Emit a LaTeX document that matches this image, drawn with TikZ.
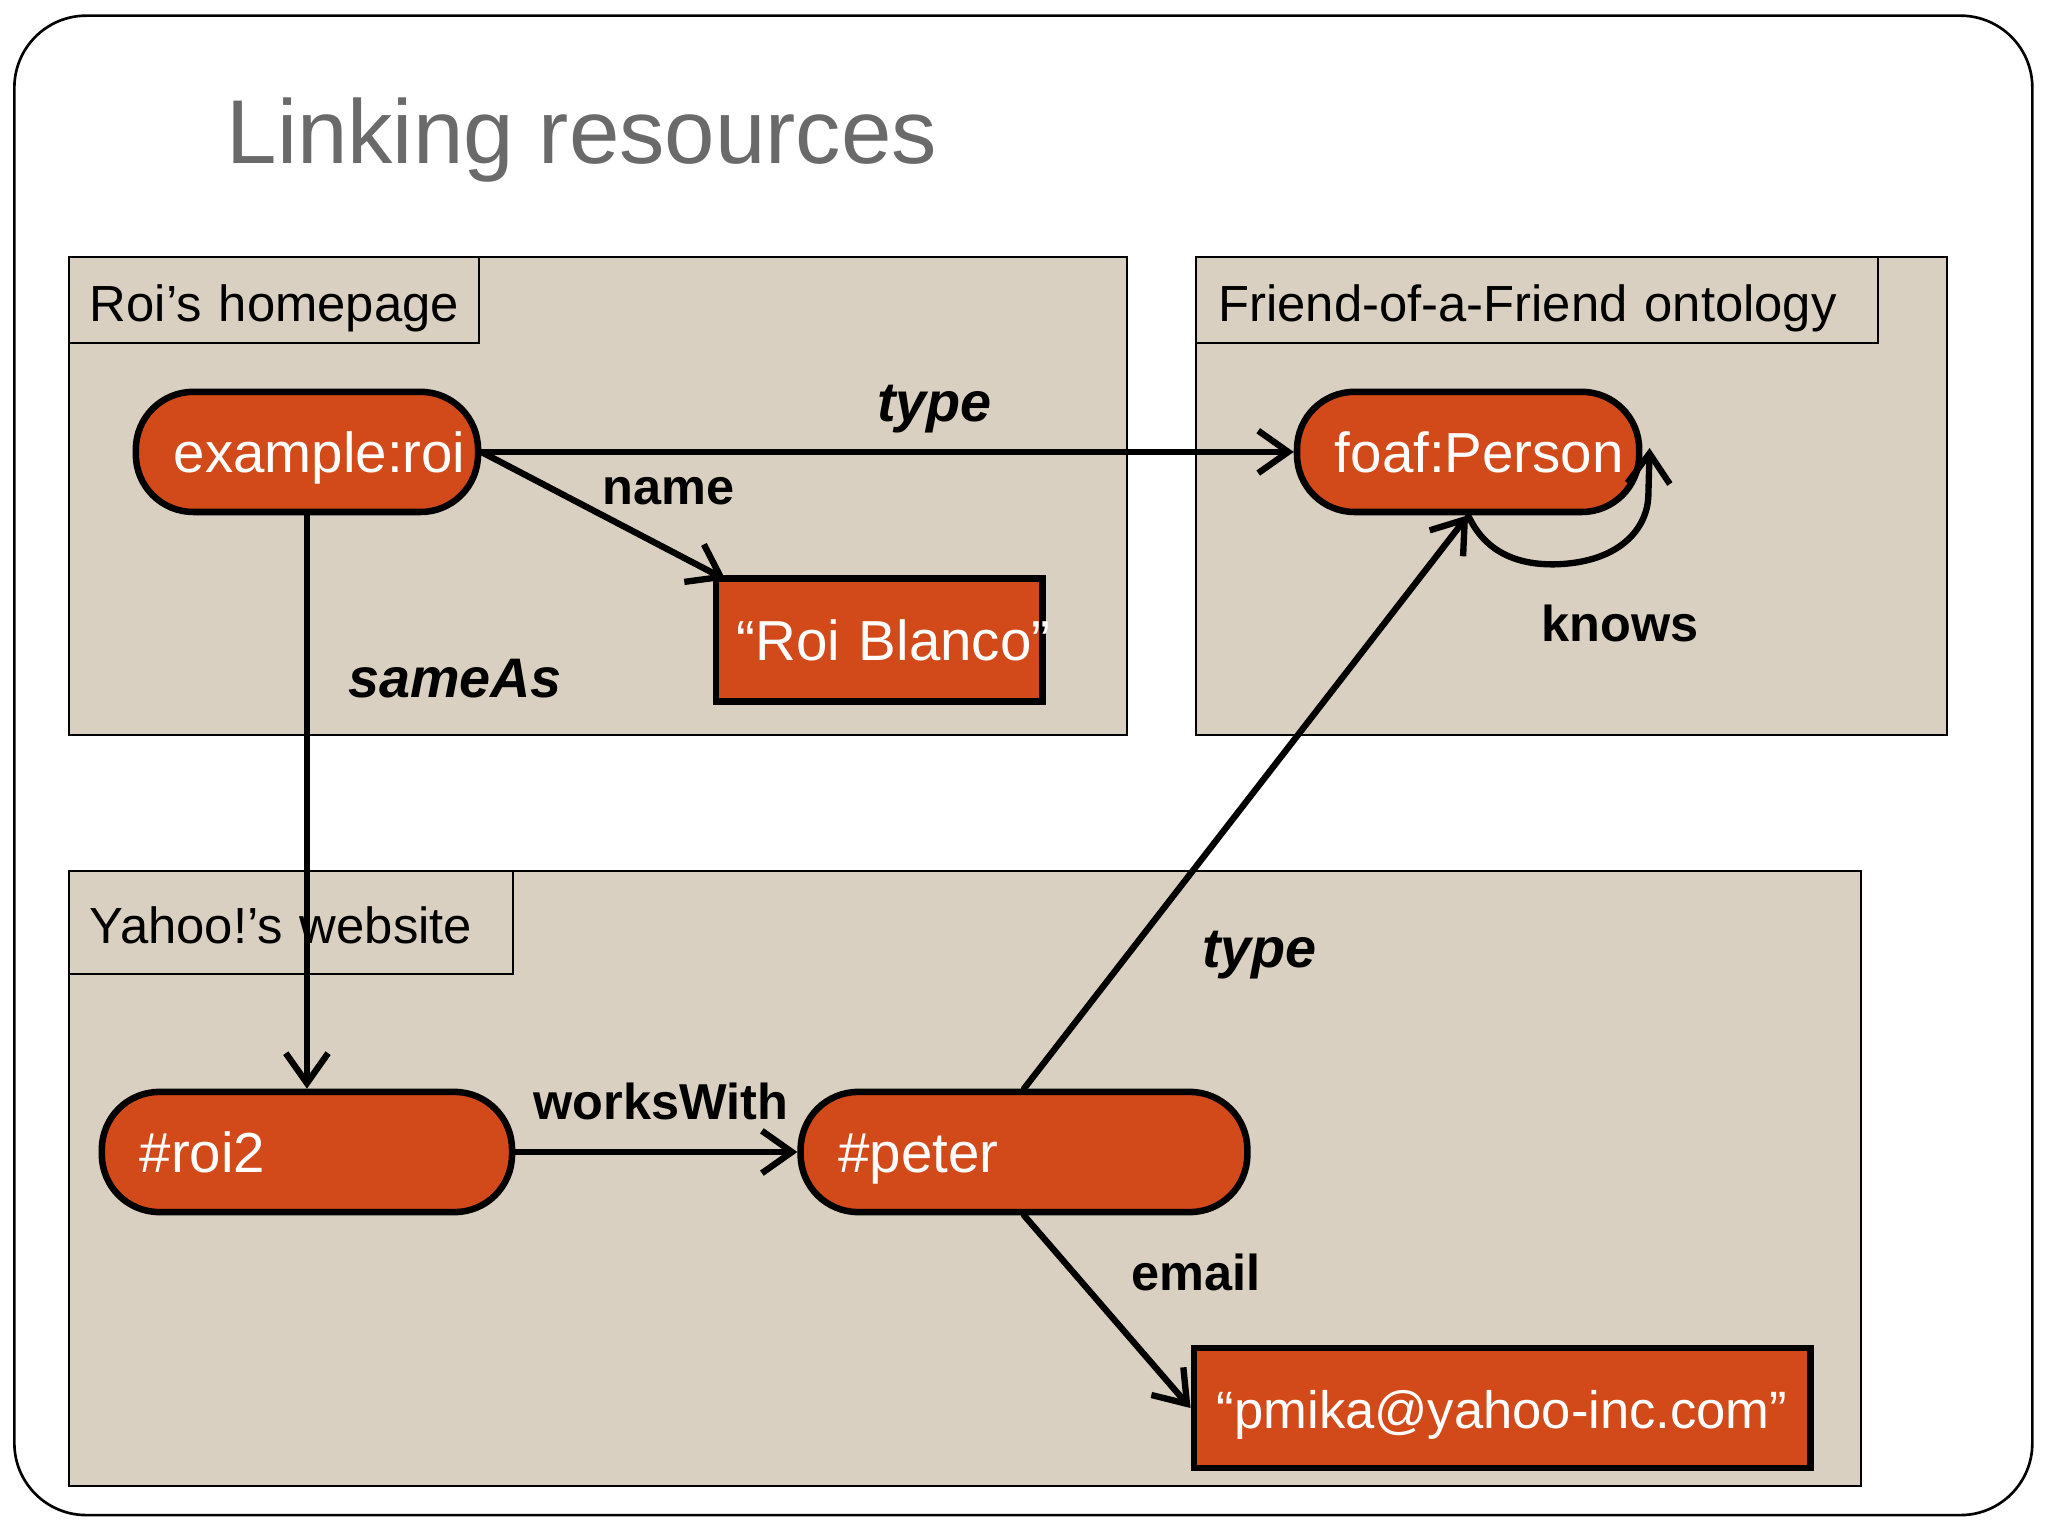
\documentclass[tikz,border=0pt]{standalone}
\usepackage{fontspec}
\setmainfont{Liberation Sans}
\usetikzlibrary{arrows.meta}
\definecolor{nodeorange}{HTML}{D24A1A}
\definecolor{panelbeige}{HTML}{D9D0C2}
\definecolor{titlegray}{HTML}{6A6A6A}
\tikzset{
  panel/.style={draw=black, line width=0.6pt, fill=panelbeige, anchor=north west, inner sep=0pt},
  tabbox/.style={draw=black, line width=0.6pt, fill=panelbeige, anchor=north west,
    inner xsep=5.92pt, inner ysep=0pt, align=left,
    font=\fontsize{14.4pt}{17pt}\selectfont, text height=11.85pt, text depth=0pt},
  res/.style={draw=black, line width=1.85pt, fill=nodeorange, text=white,
    rounded corners=16.29pt, minimum height=34.06pt, inner ysep=0pt,
    inner xsep=10.74pt, align=left,
    font=\fontsize{16pt}{19pt}\selectfont, text height=11.85pt, text depth=0pt},
  lit/.style={draw=black, line width=1.85pt, fill=nodeorange, text=white,
    inner ysep=0pt, font=\fontsize{16pt}{19pt}\selectfont, text height=11.85pt, text depth=0pt},
  link/.style={line width=1.8pt, -{Straight Barb[length=8.5pt,width=12pt]}, line cap=round, line join=round},
  lbl/.style={font=\bfseries\fontsize{14.3pt}{17pt}\selectfont, anchor=base west, inner sep=0pt},
  ilbl/.style={font=\bfseries\itshape\fontsize{15.8pt}{19pt}\selectfont, anchor=base west, inner sep=0pt},
}
\begin{document}
\begin{tikzpicture}[x=0.37025pt, y=-0.37025pt]
\useasboundingbox (0,0) rectangle (1568,1176);
\fill[white] (0,0) rectangle (1568,1176);
% outer frame
\draw[line width=0.75pt, rounded corners=20.4pt] (11,12) rectangle (1556,1160);
% title
\node[anchor=base west, inner sep=0pt, font=\fontsize{25.7pt}{30pt}\selectfont, text=titlegray] (title) at (173,125) {Linking resources};
% panels
\node[panel, minimum width=299.9pt, minimum height=135.5pt] (p1) at (52,196) {};
\node[panel, minimum width=212.9pt, minimum height=135.5pt] (p2) at (915,196) {};
\node[panel, minimum width=508.0pt, minimum height=174.4pt] (p3) at (52,666) {};
% tabs
\node[tabbox, minimum width=116.26pt, minimum height=24.44pt, text width=104.4pt] (t1) at (52,196) {\mbox{Roi’s homepage}};
\node[tabbox, minimum width=193.27pt, minimum height=24.44pt, text width=180.7pt, inner xsep=6.29pt] (t2) at (915,196) {\mbox{Friend-of-a-Friend ontology}};
\node[tabbox, minimum width=125.9pt, minimum height=29.25pt, text width=114.0pt] (t3) at (52,666) {\mbox{Yahoo!’s website}};
% resources
\node[res, minimum width=97.0pt, text width=75.5pt] (er) at (235,346) {\mbox{example:roi}};
\node[res, minimum width=97.0pt, text width=75.5pt] (fp) at (1124,346) {\mbox{foaf:Person}};
\node[res, minimum width=116.26pt, text width=94.8pt] (r2) at (235,882) {\mbox{\#roi2}};
\node[res, minimum width=126.6pt, text width=105.15pt] (pe) at (784,882) {\mbox{\#peter}};
% literals
\node[lit, minimum width=92.56pt, minimum height=34.8pt, text width=80.7pt, inner xsep=5.92pt, align=left] (rb) at (673,490) {\mbox{“Roi Blanco”}};
\node[lit, minimum width=174.76pt, minimum height=34.06pt, font=\fontsize{14.9pt}{18pt}\selectfont] (em) at (1150,1078) {“pmika@yahoo-inc.com”};
% connectors
\draw[link] (er.east) -- (fp.west);
\draw[link] (er.east) -- ([xshift=3.7pt,yshift=-1.2pt]rb.north west);
\draw[link] (er.south) -- (r2.north);
\draw[link] (r2.east) -- (pe.west);
\draw[link] (pe.north) -- (fp.south);
\draw[link] (pe.south) -- (em.west);
\coordinate (kend) at (1263,343);
\draw[link] (fp.south) .. controls (1138,425) and (1165,433) .. (1193,432)
  .. controls (1240,430) and (1261,405) .. (1262,380) -- (kend);
% labels
\node[ilbl] (l1) at (671,323) {type};
\node[lbl] (l2) at (461,386) {name};
\node[ilbl] (l3) at (266,534) {sameAs};
\node[lbl] (l4) at (408,857) {worksWith};
\node[ilbl] (l5) at (920,741) {type};
\node[lbl] (l6) at (1180,491) {knows};
\node[lbl] (l7) at (866,988) {email};
\end{tikzpicture}
\end{document}
